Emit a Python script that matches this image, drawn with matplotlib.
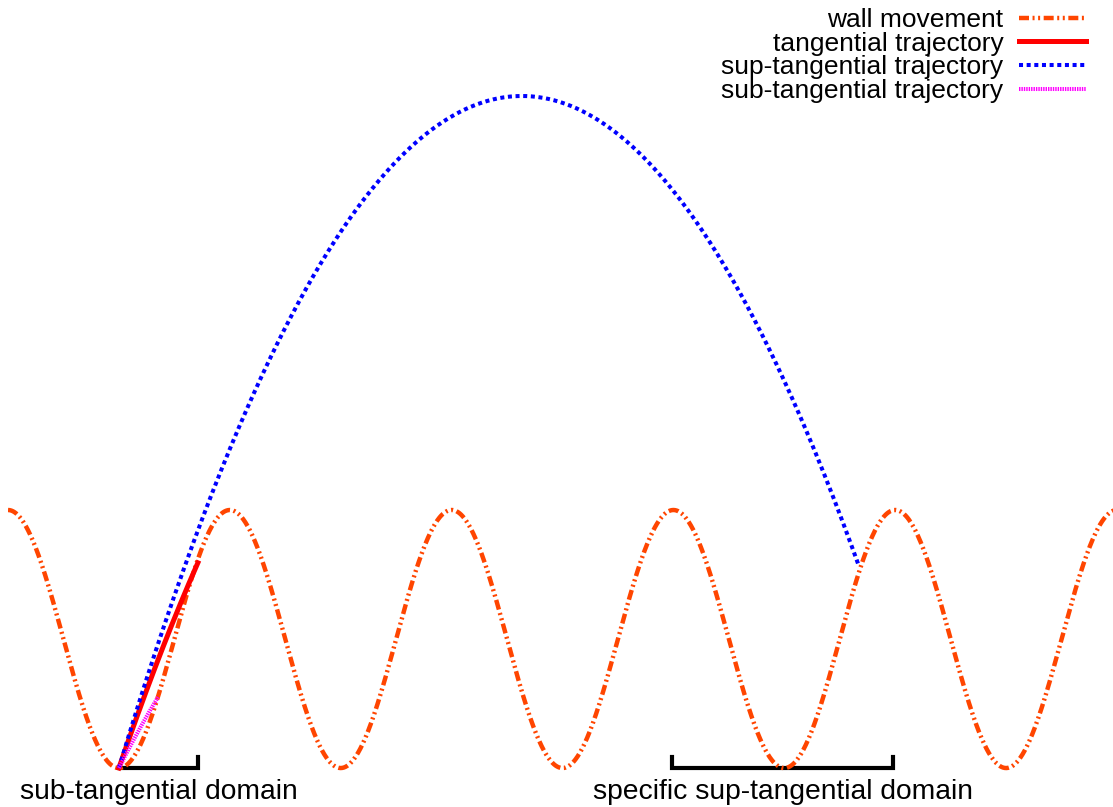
import numpy as np
import matplotlib.pyplot as plt

plt.rcParams['font.family'] = ['Liberation Sans', 'DejaVu Sans']

# wall movement: y = amp * (1 - cos(2 pi t / period)), minimum at t = 0
wall_amp = 1.0
wall_period = 1.0
t_min, t_max = -0.5, 4.5

# ballistic flights launched from the wall minimum at t = 0
gravity = 3.156
traj_labels = ["tangential trajectory", "sup-tangential trajectory", "sub-tangential trajectory"]
traj_v0 = [5.03, 5.734, 3.40]
traj_tend = [0.356, 3.333, 0.176]

# domains marked under the wall
domain_labels = ["sub-tangential domain", "specific sup-tangential domain"]
domain_start = [0.0, 2.494]
domain_end = [0.356, 3.49]
domain_ticks = [(False, True), (True, True)]

W, H = 1113, 807
fig = plt.figure(figsize=(W / 100, H / 100), dpi=100)
ax = fig.add_axes([8 / W, 0, 1109 / W, 1])
ax.set_xlim(t_min, t_max)
ax.set_ylim(-0.302, 5.953)
ax.axis('off')

# brackets (under the curves)
tick_h = 0.085
for a, b, (tl, tr) in zip(domain_start, domain_end, domain_ticks):
    xs = [a, b]
    ys = [0, 0]
    if tl:
        xs = [a] + xs
        ys = [tick_h] + ys
    if tr:
        xs = xs + [b]
        ys = ys + [tick_h]
    ax.plot(xs, ys, color='black', lw=3, solid_joinstyle='miter', zorder=1)
for lab, a, b in zip(domain_labels, domain_start, domain_end):
    ax.text((a + b) / 2, -0.185, lab, ha='center', va='center', fontsize=20.3)

t = np.linspace(t_min, t_max, 2000)
wall = wall_amp * (1 - np.cos(2 * np.pi * t / wall_period))
ax.plot(t, wall, color='#ff4500', lw=3.2, dashes=(2.25, 0.8, 0.45, 0.8, 0.45, 0.8),
        label='wall movement', zorder=2)

styles = [dict(color='#ff0000', lw=3.6, linestyle='-'),
          dict(color='#0000ff', lw=2.9, dashes=(1.0, 0.9)),
          dict(color='#ff00ff', lw=2.9, dashes=(0.35, 0.25))]
for lab, v0, te, st in zip(traj_labels, traj_v0, traj_tend, styles):
    tt = np.linspace(0, te, 400)
    yy = v0 * tt - 0.5 * gravity * tt ** 2
    ax.plot(tt, yy, label=lab, zorder=3, **st)

ax.legend(loc='upper right', bbox_to_anchor=(1086 / W, 1 - 8 / H),
          bbox_transform=fig.transFigure, frameon=False, markerfirst=False,
          fontsize=19.0, handlelength=2.55, handletextpad=0.58,
          labelspacing=-0.015, borderpad=0, borderaxespad=0)

fig.savefig('out.png', dpi=100)
